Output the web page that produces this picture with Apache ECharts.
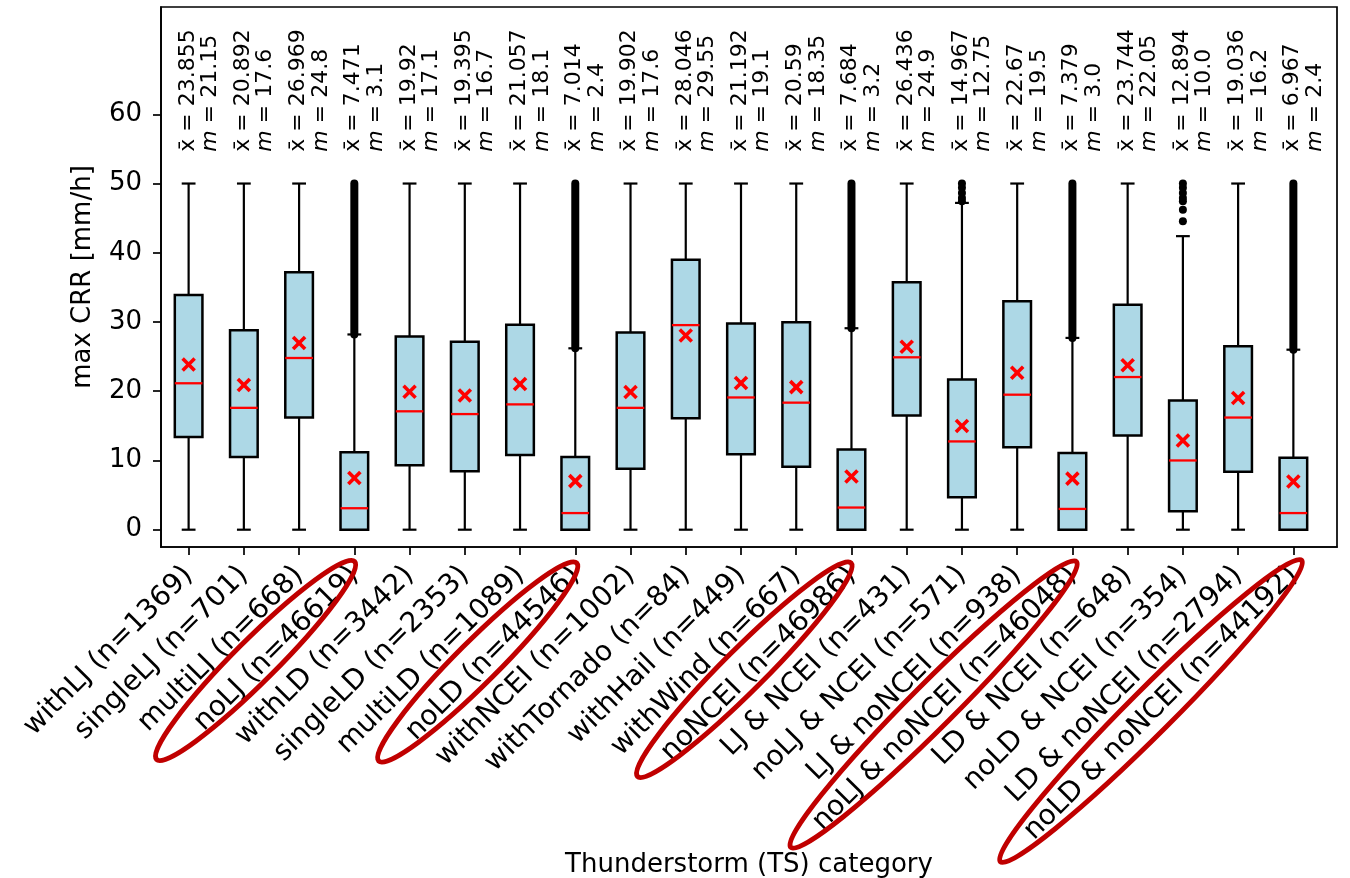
<!DOCTYPE html>
<html>
<head>
<meta charset="utf-8">
<script src="https://cdn.jsdelivr.net/npm/echarts@6/dist/echarts.min.js"></script>
<style>
html,body{margin:0;padding:0;background:#ffffff;}
#chart{width:1350px;height:878px;}
</style>
</head>
<body>
<div id="chart"></div>
<script>
// ---------------- data ----------------
const categories = [
  'withLJ (n=1369)', 'singleLJ (n=701)', 'multiLJ (n=668)', 'noLJ (n=46619)',
  'withLD (n=3442)', 'singleLD (n=2353)', 'multiLD (n=1089)', 'noLD (n=44546)',
  'withNCEI (n=1002)', 'withTornado (n=84)', 'withHail (n=449)', 'withWind (n=667)',
  'noNCEI (n=46986)', 'LJ & NCEI (n=431)', 'noLJ & NCEI (n=571)', 'LJ & noNCEI (n=938)',
  'noLJ & noNCEI (n=46048)', 'LD & NCEI (n=648)', 'noLD & NCEI (n=354)', 'LD & noNCEI (n=2794)',
  'noLD & noNCEI (n=44192)'
];
const whiskerLow  = [0, 0, 0, 0, 0, 0, 0, 0, 0, 0, 0, 0, 0, 0, 0, 0, 0, 0, 0, 0, 0];
const q1          = [13.4, 10.5, 16.2, 0, 9.3, 8.45, 10.8, 0, 8.8, 16.1, 10.9, 9.1, 0, 16.5, 4.7, 11.9, 0, 13.6, 2.66, 8.36, 0];
const median      = [21.15, 17.6, 24.8, 3.1, 17.1, 16.7, 18.1, 2.4, 17.6, 29.55, 19.1, 18.35, 3.2, 24.9, 12.75, 19.5, 3.0, 22.05, 10.0, 16.2, 2.4];
const q3          = [33.9, 28.8, 37.2, 11.2, 27.9, 27.15, 29.6, 10.5, 28.5, 39.0, 29.8, 29.95, 11.6, 35.75, 21.7, 33.0, 11.06, 32.5, 18.65, 26.5, 10.4];
const whiskerHigh = [50, 50, 50, 28.2, 50, 50, 50, 26.2, 50, 50, 50, 50, 29.1, 50, 47.2, 50, 27.7, 50, 42.4, 50, 26.0];
const mean        = [23.855, 20.892, 26.969, 7.471, 19.92, 19.395, 21.057, 7.014, 19.902, 28.046, 21.192, 20.59, 7.684, 26.436, 14.967, 22.67, 7.379, 23.744, 12.894, 19.036, 6.967];
// dense columns of outliers: [category index, lowest outlier, highest outlier]
const denseOutliers = [[3, 28.2, 50], [7, 26.2, 50], [12, 29.1, 50], [16, 27.7, 50], [20, 26.0, 50]];
// single outliers: [category index, value]
const sparseOutliers = [
  [14, 47.45], [14, 47.9], [14, 48.65], [14, 49.4], [14, 50],
  [18, 44.55], [18, 46.2], [18, 47.45], [18, 47.9], [18, 48.65], [18, 49.4], [18, 50]
];
const yTicks = [0, 10, 20, 30, 40, 50, 60];
const annotationLevel = 54.6;              // y value where the x̄ / m texts start

// ---------------- chart ----------------
const FONT = 'DejaVu Sans';
const xTicks = categories.map((c, i) => i + 1);
const boxData = categories.map((c, i) => [i + 1, whiskerLow[i], q1[i], median[i], q3[i], whiskerHigh[i], mean[i]]);
const denseData = denseOutliers.map(d => [d[0] + 1, d[1], d[2]]);
const sparseData = sparseOutliers.map(d => [d[0] + 1, d[1]]);
const annData = categories.map((c, i) => [i + 1, annotationLevel, i]);

function fmt(v) { return Number.isInteger(v) ? v.toFixed(1) : String(v); }

function renderBox(params, api) {
  const x = api.value(0);
  const c = v => api.coord([x, v]);
  const bw = api.size([0.5, 0])[0];
  const cw = api.size([0.25, 0])[0];
  const pLo = c(api.value(1)), pQ1 = c(api.value(2)), pMed = c(api.value(3));
  const pQ3 = c(api.value(4)), pHi = c(api.value(5)), pMean = c(api.value(6));
  const cx = pQ1[0];
  const blk = { stroke: '#000', lineWidth: 2.2, fill: null };
  const red = { stroke: '#ff0000', lineWidth: 2.3, fill: null };
  const xs = 6;
  const children = [
    { type: 'line', shape: { x1: cx, y1: pQ1[1], x2: cx, y2: pLo[1] }, style: blk },
    { type: 'line', shape: { x1: cx, y1: pQ3[1], x2: cx, y2: pHi[1] }, style: blk },
    { type: 'line', shape: { x1: cx - cw / 2, y1: pLo[1], x2: cx + cw / 2, y2: pLo[1] }, style: blk },
    { type: 'line', shape: { x1: cx - cw / 2, y1: pHi[1], x2: cx + cw / 2, y2: pHi[1] }, style: blk },
    { type: 'rect', shape: { x: cx - bw / 2, y: pQ3[1], width: bw, height: pQ1[1] - pQ3[1] },
      style: { fill: '#add8e6', stroke: '#000', lineWidth: 2.5 } },
    { type: 'line', shape: { x1: cx - bw / 2, y1: pMed[1], x2: cx + bw / 2, y2: pMed[1] }, style: red },
    { type: 'line', shape: { x1: pMean[0] - xs, y1: pMean[1] - xs, x2: pMean[0] + xs, y2: pMean[1] + xs },
      style: { stroke: '#ff0000', lineWidth: 3.6 } },
    { type: 'line', shape: { x1: pMean[0] - xs, y1: pMean[1] + xs, x2: pMean[0] + xs, y2: pMean[1] - xs },
      style: { stroke: '#ff0000', lineWidth: 3.6 } }
  ];
  return { type: 'group', children: children };
}

function renderDense(params, api) {
  const x = api.value(0);
  const a = api.coord([x, api.value(1)]);
  const b = api.coord([x, api.value(2)]);
  return { type: 'line', shape: { x1: a[0], y1: a[1], x2: b[0], y2: b[1] },
           style: { stroke: '#000', lineWidth: 8, lineCap: 'round' } };
}

function renderAnn(params, api) {
  const x = api.value(0);
  const i = api.value(2);
  const p = api.coord([x, api.value(1)]);
  return {
    type: 'text', x: p[0] + 10.5, y: p[1], rotation: Math.PI / 2,
    style: {
      text: 'x\u0304 = ' + fmt(mean[i]) + '\n{it|m} = ' + fmt(median[i]),
      fontFamily: FONT, fontSize: 22, fill: '#000',
      align: 'left', verticalAlign: 'middle', lineHeight: 22.5,
      rich: { it: { fontFamily: FONT, fontSize: 22, fontStyle: 'italic', lineHeight: 22.5, fill: '#000' } }
    }
  };
}

const ellipseShapes = [
  // [centre x, centre y, rx, ry] in pixels (annotation overlay)
  [255.6, 660.4, 140, 21],
  [477.7, 661.9, 140, 21],
  [744.3, 669.7, 151, 21],
  [933.6, 704.5, 202, 22],
  [1151.0, 711.0, 213, 22]
];

const chart = echarts.init(document.getElementById('chart'), null, { renderer: 'canvas' });
chart.setOption({
  animation: false,
  backgroundColor: '#ffffff',
  textStyle: { fontFamily: FONT },
  grid: { left: 161, right: 13, top: 7, bottom: 331, containLabel: false, outerBoundsMode: 'none',
          show: true, borderColor: '#000', borderWidth: 1.7, backgroundColor: 'transparent' },
  xAxis: {
    type: 'value', min: 0.5, max: 21.79,
    name: 'Thunderstorm (TS) category', nameLocation: 'middle', nameGap: 301,
    nameTextStyle: { fontSize: 26, color: '#000', fontFamily: FONT },
    splitLine: { show: false },
    axisLine: { show: true, onZero: false, lineStyle: { color: '#000', width: 1.7 } },
    axisTick: { show: true, customValues: xTicks, length: 8, lineStyle: { color: '#000', width: 1.7 } },
    axisLabel: {
      customValues: xTicks, rotate: 45, margin: 24, fontSize: 28, color: '#000', fontFamily: FONT,
      formatter: v => categories[Math.round(v) - 1] || ''
    }
  },
  yAxis: {
    type: 'value', min: -2.5, max: 75.5,
    name: 'max CRR [mm/h]', nameLocation: 'middle', nameGap: 65, nameRotate: 90,
    nameTextStyle: { fontSize: 26, color: '#000', fontFamily: FONT },
    splitLine: { show: false },
    axisLine: { show: true, onZero: false, lineStyle: { color: '#000', width: 1.7 } },
    axisTick: { show: true, customValues: yTicks, length: 8, lineStyle: { color: '#000', width: 1.7 } },
    axisLabel: { customValues: yTicks, margin: 19, fontSize: 26, color: '#000', fontFamily: FONT }
  },
  series: [
    { type: 'custom', name: 'boxes', renderItem: renderBox, data: boxData, z: 2, clip: false },
    { type: 'custom', name: 'dense outliers', renderItem: renderDense, data: denseData, z: 3 },
    { type: 'scatter', name: 'outliers', data: sparseData, symbol: 'circle', symbolSize: 8,
      itemStyle: { color: '#000', opacity: 1 }, z: 4 },
    { type: 'custom', name: 'stats', renderItem: renderAnn, data: annData, z: 5, clip: false }
  ],
  graphic: ellipseShapes.map(e => ({
    type: 'ellipse', x: e[0], y: e[1], rotation: Math.PI / 4,
    shape: { cx: 0, cy: 0, rx: e[2], ry: e[3] },
    style: { fill: null, stroke: '#c00000', lineWidth: 5 }, z: 100
  }))
});
</script>
</body>
</html>
